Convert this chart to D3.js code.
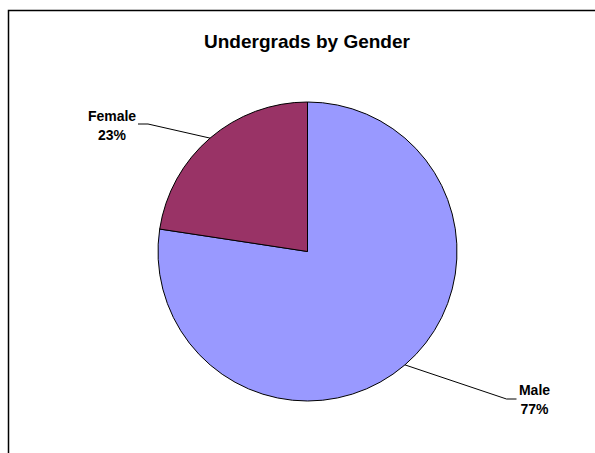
<!DOCTYPE html>
<html lang="en">
<head>
	<meta charset="UTF-8">
	<title>Undergrads by Gender</title>
	<script src="https://d3js.org/d3.v7.min.js"></script>
	<style>
		* { margin: 0px; padding: 0px; }
		body { background: #fff; }
		text { font-family: "Liberation Sans", Arial, sans-serif; font-weight: bold; fill: #000; }
	</style>
</head>
<body>
	<svg width="595" height="453"></svg>
	<script>
		var categories = ["Male", "Female"];
		var values = [77.4, 22.6];
		var colors = ["#9999FF", "#993366"];

		var svg = d3.select("svg");
		var cx = 307.5, cy = 251.5, radius = 149.5;

		// chart frame (runs off the right and bottom edges)
		svg.append("rect")
			.attr("x", 8.5).attr("y", 10.5)
			.attr("width", 620).attr("height", 480)
			.attr("fill", "none")
			.attr("stroke", "#000")
			.attr("stroke-width", 1.5);

		svg.append("text")
			.attr("x", 307).attr("y", 48)
			.attr("text-anchor", "middle")
			.style("font-size", "19px")
			.text("Undergrads by Gender");

		var data = categories.map(function (c, i) { return { name: c, value: values[i], color: colors[i] }; });
		var total = d3.sum(values);

		var pie = d3.pie().sort(null).value(function (d) { return d.value; });
		var arc = d3.arc().innerRadius(0).outerRadius(radius);
		var arcs = pie(data);

		var g = svg.append("g").attr("transform", "translate(" + cx + "," + cy + ")");

		g.selectAll("path.slice")
			.data(arcs)
			.enter()
			.append("path")
			.attr("class", "slice")
			.attr("d", arc)
			.attr("fill", function (d) { return d.data.color; })
			.attr("stroke", "#000")
			.attr("stroke-width", 1);

		// label elbow offsets from the pie centre (layout only)
		var labelPos = {
			Male: { elbow: [199, 147.5], end: [209, 147.5], tx: 227, ty: 143.5 },
			Female: { elbow: [-159.5, -127.5], end: [-169.5, -127.5], tx: -195.5, ty: -131 }
		};

		arcs.forEach(function (d) {
			var p = labelPos[d.data.name];
			var mid = (d.startAngle + d.endAngle) / 2;
			var sx = radius * Math.sin(mid), sy = -radius * Math.cos(mid);
			g.append("polyline")
				.attr("points", [[sx, sy], p.elbow, p.end].map(function (q) { return q.join(","); }).join(" "))
				.attr("fill", "none")
				.attr("stroke", "#000")
				.attr("stroke-width", 1);
			var t = g.append("text")
				.attr("text-anchor", "middle")
				.style("font-size", "14px");
			t.append("tspan").attr("x", p.tx).attr("y", p.ty).text(d.data.name);
			t.append("tspan").attr("x", p.tx).attr("y", p.ty + 19)
				.text(Math.round(d.data.value / total * 100) + "%");
		});
	</script>
</body>
</html>
